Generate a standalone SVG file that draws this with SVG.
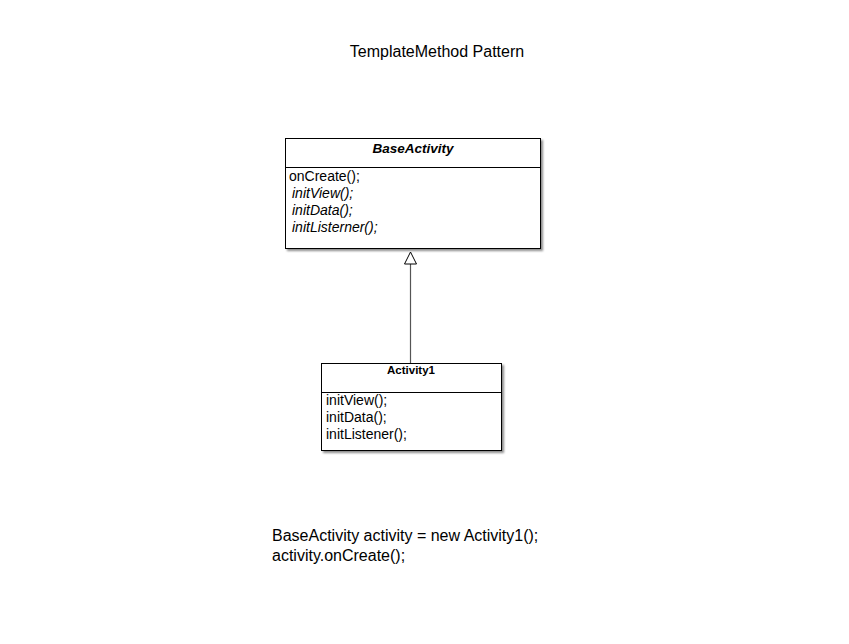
<svg xmlns="http://www.w3.org/2000/svg" width="849" height="644" viewBox="0 0 849 644">
<defs>
<filter id="sh" x="-5%" y="-5%" width="115%" height="115%">
<feDropShadow dx="2" dy="2" stdDeviation="1.2" flood-color="#000" flood-opacity="0.45"/>
</filter>
</defs>
<style>
text{font-family:"Liberation Sans",Arial,sans-serif;fill:#000}
.box{fill:#fff;stroke:#000;stroke-width:1}
.div{stroke:#000;stroke-width:1}
.m{font-size:14px}
.i{font-style:italic}
.big{font-size:16px}
</style>
<rect width="849" height="644" fill="#fff"/>
<text class="big" x="437" y="57" text-anchor="middle">TemplateMethod Pattern</text>
<g id="connectors">
<line x1="410.5" y1="363" x2="410.5" y2="264" stroke="#555" stroke-width="1.2"/>
<path d="M410.5 252 L416.5 264 L404.5 264 Z" fill="#fff" stroke="#000" stroke-width="1"/>
</g>
<g id="BaseActivity">
<rect class="box" x="285.5" y="138.5" width="255" height="110" filter="url(#sh)"/>
<line class="div" x1="285.5" y1="167.5" x2="540.5" y2="167.5"/>
<text x="413" y="153" text-anchor="middle" font-size="13.5" font-weight="bold" font-style="italic">BaseActivity</text>
<text class="m" x="289" y="181">onCreate();</text>
<text class="m i" x="292" y="198">initView();</text>
<text class="m i" x="292" y="215">initData();</text>
<text class="m i" x="292" y="232">initListerner();</text>
</g>
<g id="Activity1">
<rect class="box" x="321.5" y="363.5" width="180" height="87" filter="url(#sh)"/>
<line class="div" x1="321.5" y1="392.5" x2="501.5" y2="392.5"/>
<text x="411" y="374" text-anchor="middle" font-size="11.5" font-weight="bold">Activity1</text>
<text class="m" x="326" y="405">initView();</text>
<text class="m" x="326" y="422">initData();</text>
<text class="m" x="326" y="439">initListener();</text>
</g>
<text class="big" x="272" y="541">BaseActivity activity = new Activity1();</text>
<text class="big" x="272" y="561">activity.onCreate();</text>
</svg>
